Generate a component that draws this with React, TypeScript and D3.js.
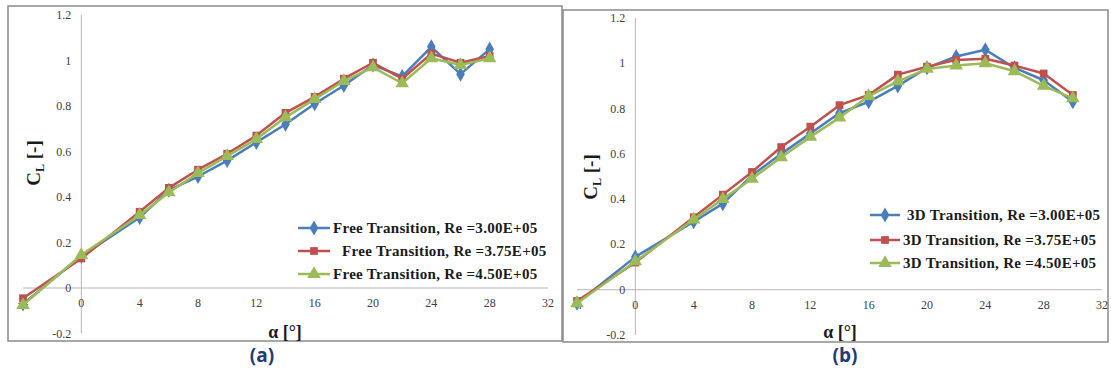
import React from 'react';
import * as d3 from 'd3';

// angle of attack (deg)
const alphaA = [-4, 0, 4, 6, 8, 10, 12, 14, 16, 18, 20, 22, 24, 26, 28];
const alphaB = [-4, 0, 4, 6, 8, 10, 12, 14, 16, 18, 20, 22, 24, 26, 28, 30];

// panel (a) free transition
const freeRe300 = [-0.07, 0.14, 0.31, 0.43, 0.49, 0.56, 0.64, 0.72, 0.81, 0.89, 0.98, 0.93, 1.06, 0.94, 1.05];
const freeRe375 = [-0.045, 0.13, 0.335, 0.44, 0.52, 0.59, 0.67, 0.77, 0.84, 0.92, 0.99, 0.92, 1.03, 0.99, 1.02];
const freeRe450 = [-0.075, 0.145, 0.32, 0.42, 0.505, 0.58, 0.655, 0.75, 0.83, 0.91, 0.97, 0.9, 1.01, 0.98, 1.01];

// panel (b) 3D transition
const tdRe300 = [-0.06, 0.145, 0.3, 0.38, 0.505, 0.6, 0.69, 0.78, 0.83, 0.9, 0.98, 1.03, 1.06, 0.98, 0.925, 0.83];
const tdRe375 = [-0.05, 0.12, 0.32, 0.42, 0.52, 0.63, 0.72, 0.815, 0.86, 0.95, 0.985, 1.015, 1.02, 0.99, 0.955, 0.86];
const tdRe450 = [-0.06, 0.125, 0.31, 0.4, 0.49, 0.585, 0.675, 0.76, 0.855, 0.92, 0.975, 0.99, 1.0, 0.965, 0.9, 0.845];

const xTicks = [-4, 0, 4, 8, 12, 16, 20, 24, 28, 32];
const yTicks = [-0.2, 0, 0.2, 0.4, 0.6, 0.8, 1, 1.2];
const yTickLabels = ['-0.2', '0', '0.2', '0.4', '0.6', '0.8', '1', '1.2'];

const colors = ['#4A7EBB', '#C0504D', '#9BBB59'];
const symbols = [d3.symbolDiamond, d3.symbolSquare, d3.symbolTriangle];
const symSizes = [65, 60, 80];

const serif = '"Liberation Serif", "Times New Roman", serif';

type Panel = {
  frame: [number, number, number, number];
  xr: [number, number];
  yr: [number, number];
  alpha: number[];
  series: number[][];
  names: string[];
  legend: { x0: number; x1: number; tx: number[]; rows: number[] };
  ylab: [number, number];
  xlab: [number, number];
  tag: string;
  tagPos: [number, number];
};

const panels: Panel[] = [
  {
    frame: [8, 6, 562, 341],
    xr: [23, 548],
    yr: [333.5, 15],
    alpha: alphaA,
    series: [freeRe300, freeRe375, freeRe450],
    names: ['Free Transition, Re =3.00E+05', ' Free Transition, Re =3.75E+05', 'Free Transition, Re =4.50E+05'],
    legend: { x0: 298, x1: 330, tx: [333, 338, 333], rows: [228, 251, 274] },
    ylab: [40, 163],
    xlab: [285, 338],
    tag: '(a)',
    tagPos: [262, 362],
  },
  {
    frame: [563, 10, 1108, 342],
    xr: [577, 1102],
    yr: [335, 18],
    alpha: alphaB,
    series: [tdRe300, tdRe375, tdRe450],
    names: ['3D Transition, Re =3.00E+05', '3D Transition, Re =3.75E+05', '3D Transition, Re =4.50E+05'],
    legend: { x0: 870, x1: 900, tx: [907, 903, 903], rows: [215, 240, 263] },
    ylab: [597, 177],
    xlab: [840, 338],
    tag: '(b)',
    tagPos: [845, 362],
  },
];

const ChartPanel = ({ p }: { p: Panel }) => {
  const x = d3.scaleLinear().domain([-4, 32]).range(p.xr);
  const y = d3.scaleLinear().domain([-0.2, 1.2]).range(p.yr);
  const [fx0, fy0, fx1, fy1] = p.frame;

  return (
    <g>
      <rect x={fx0} y={fy0} width={fx1 - fx0} height={fy1 - fy0} fill="white" stroke="#8a8a8a" strokeWidth={1.5} />
      {/* axes */}
      <line x1={x(0)} x2={x(0)} y1={y(1.2)} y2={y(-0.2)} stroke="#b5b5b5" strokeWidth={1} />
      <line x1={x(-4)} x2={x(32)} y1={y(0)} y2={y(0)} stroke="#b5b5b5" strokeWidth={1} />
      {yTicks.map((t, i) => (
        <text key={'y' + i} x={x(0) - 10} y={y(t) + 4} textAnchor="end" fontFamily={serif} fontSize={12} fill="#404040">
          {yTickLabels[i]}
        </text>
      ))}
      {xTicks.map((t) => (
        <text key={'x' + t} x={x(t)} y={y(0) + 19} textAnchor="middle" fontFamily={serif} fontSize={12} fill="#404040">
          {t}
        </text>
      ))}
      {/* series */}
      {p.series.map((s, si) => {
        const pts: [number, number][] = p.alpha.map((a, i) => [x(a), y(s[i])]);
        const sym = d3.symbol().type(symbols[si]).size(symSizes[si])();
        return (
          <g key={'s' + si}>
            <path d={d3.line()(pts) || ''} fill="none" stroke={colors[si]} strokeWidth={2.5} strokeLinejoin="round" />
            {pts.map(([px, py], i) => (
              <path key={i} d={sym || ''} transform={`translate(${px},${py})`} fill={colors[si]} />
            ))}
          </g>
        );
      })}
      {/* legend */}
      {p.names.map((n, i) => {
        const sym = d3.symbol().type(symbols[i]).size(symSizes[i])();
        const ly = p.legend.rows[i];
        return (
          <g key={'l' + i}>
            <line x1={p.legend.x0} x2={p.legend.x1} y1={ly} y2={ly} stroke={colors[i]} strokeWidth={2.5} />
            <path d={sym || ''} transform={`translate(${(p.legend.x0 + p.legend.x1) / 2},${ly})`} fill={colors[i]} />
            <text x={p.legend.tx[i]} y={ly + 5} fontFamily={serif} fontSize={15} letterSpacing={0.3} fontWeight="bold" fill="#1a1a1a" style={{ whiteSpace: 'pre' }}>
              {n}
            </text>
          </g>
        );
      })}
      {/* axis titles */}
      <text transform={`translate(${p.ylab[0]},${p.ylab[1]}) rotate(-90)`} textAnchor="middle" fontFamily={serif} fontSize={19} fontWeight="bold" fill="#1a1a1a">
        C<tspan fontSize={12} dy={4}>L</tspan>
        <tspan dy={-4}> [-]</tspan>
      </text>
      <text x={p.xlab[0]} y={p.xlab[1]} textAnchor="middle" fontFamily={serif} fontSize={18} fontWeight="bold" fill="#1a1a1a">
        α [°]
      </text>
      <text x={p.tagPos[0]} y={p.tagPos[1]} textAnchor="middle" fontFamily='"Open Sans", "DejaVu Sans", sans-serif' fontSize={19} fontWeight="bold" fill="#1F3C74">
        {p.tag}
      </text>
    </g>
  );
};

const App = () => (
  <svg width={1111} height={374} style={{ position: 'absolute', left: 0, top: 0, background: 'white' }}>
    {panels.map((p) => (
      <ChartPanel key={p.tag} p={p} />
    ))}
  </svg>
);

export default App;
